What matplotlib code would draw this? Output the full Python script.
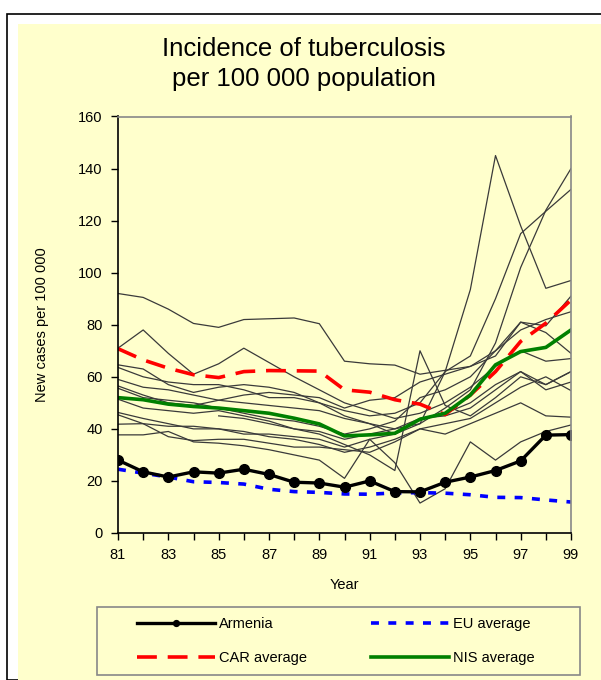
import numpy as np
import matplotlib
matplotlib.use('Agg')
import matplotlib.pyplot as plt
from matplotlib.patches import Rectangle

plt.rcParams['font.family'] = ['Liberation Sans', 'DejaVu Sans']

# Years 1981-1999 (shown as two digits)
years = list(range(81, 100))

armenia = [28, 23.5, 21.5, 23.5, 23, 24.5, 22.5, 19.5, 19.2, 17.6, 20, 15.9, 15.8,
           19.5, 21.5, 24, 27.7, 37.6, 37.8]
eu_avg = [24.5, 23, 21.5, 19.7, 19.4, 18.8, 16.8, 15.9, 15.6, 15, 14.9, 15.4, 15.5,
          15.3, 14.7, 13.7, 13.6, 12.7, 11.9]
car_avg = [70.8, 66.5, 63.3, 60.8, 59.7, 62, 62.4, 62.3, 62.2, 55, 54.1, 51.2, 49.5,
           45.5, 53, 62, 73.6, 80.6, 89.5]
nis_avg = [52, 51.2, 49.5, 48.6, 48, 47, 46, 44.1, 41.9, 37.3, 37.7, 38.3, 43.7,
           46, 53, 64.6, 69.7, 71.3, 78]

# individual NIS countries (thin grey lines), NaN = no data
nan = np.nan
countries = [
    [92, 90.5, 86, 80.5, 79, 82, 82.3, 82.6, 80.4, 66, 65, 64.5, 61, 62.5, 64, 70, 81, 77, 69],
    [71, 78, 69, 61, 65, 71, 65.5, 60, 55, 50, 47, 44, 46, 50, 56, 64, 70, 66, 67],
    [64.6, 63, 57, 54, 56, 57, 56, 54, 50, 45, 42, 38, 42, 62, 93.5, 145, 118, 94, 97],
    [63.6, 60, 58, 57, 57, 55, 52, 52, 50, 47, 45, 46, 50, 62, 68, 90, 115, 123.6, 132],
    [59, 56, 55, 53, 51, 50, 49, 48, 47, 44, 42, 40, 42, 48, 55, 73, 102, 124, 140],
    [56.5, 53, 50, 49, 51, 53, 54, 53, 52, 48, 51, 52, 58, 61, 64, 68, 81, 79.6, 91],
    [55.6, 52, 51, 50, 48, 46, 44, 43, 41, 38, 40, 43, 52, 55, 60, 70, 78, 82, 85],
    [51.4, 48, 47, 46, 47, 45, 43, 40, 38, 34, 30, 24, 70, 49, 45, 52, 60, 57, 62],
    [46.3, 44, 42, 40, 40, 38, 38, 37, 36, 33, 36, 38, 44, 45, 48, 55, 62, 55, 58],
    [45.4, 42, 41, 41, 40, 39, 37, 36, 34, 31, 33, 36, 40, 42, 44, 50, 56, 60, 54.7],
    [41.8, 42, 37, 35.5, 36, 36, 34.5, 33, 33, 32, 31, 35, 40, 38, 42, 46, 50, 45, 44.5],
    [37.7, 37.7, 39, 35, 34.5, 33.5, 32, 30, 28, 21, 36, 27, 11.5, 17, 35, 28, 35, 39, 41.5],
    [nan, nan, nan, nan, 45, 44, 42, 40, 39, 36, 38, 40, 44, 46, 50, 57, 62, 57, 62],
]

bg = '#FFFFCC'
fig = plt.figure(figsize=(6.01, 6.80), dpi=100)
W, H = 601, 680

# outer frame + yellow chart area
fig.add_artist(Rectangle((7 / W, 0), 1, 1 - 14 / H, transform=fig.transFigure,
                         facecolor='white', edgecolor='black', lw=1.2, zorder=-3))
fig.add_artist(Rectangle((18 / W, 0), 1, 1 - 24 / H, transform=fig.transFigure,
                         facecolor=bg, edgecolor='none', zorder=-2))

ax = fig.add_axes([118 / W, 1 - 533 / H, (571 - 118) / W, (533 - 116.5) / H])
ax.set_facecolor(bg)

for c in countries:
    ax.plot(years, c, color='#3a3a3a', lw=0.9)

ax.plot(years, eu_avg, color='#0000FF', lw=2.6, linestyle=(0, (2.2, 2.6)), label='EU average')
ax.plot(years, car_avg, color='#FF0000', lw=2.6, linestyle=(0, (5.5, 3.0)), label='CAR average')
ax.plot(years, nis_avg, color='#008000', lw=2.6, label='NIS average')
ax.plot(years, armenia, color='black', lw=2.4, marker='o', markersize=7, label='Armenia')

ax.set_xlim(81, 99)
ax.set_ylim(0, 160)
ax.set_xticks(years)
ax.set_xticklabels([str(y) if (y - 81) % 2 == 0 else '' for y in years])
ax.set_yticks(range(0, 161, 20))
ax.tick_params(axis='both', direction='out', length=5, width=1, labelsize=10.5, pad=6)

for side in ['top', 'right']:
    ax.spines[side].set_color('#888888')
    ax.spines[side].set_linewidth(1.2)
for side in ['left', 'bottom']:
    ax.spines[side].set_color('black')
    ax.spines[side].set_linewidth(1.2)

ax.set_ylabel('New cases per 100 000', fontsize=10.5, labelpad=21)
ax.set_xlabel('Year', fontsize=10.5, labelpad=11)

fig.text(304 / W, 1 - 64 / H, 'Incidence of tuberculosis\nper 100 000 population',
         ha='center', va='center', fontsize=18.5, linespacing=1.35)

# legend box drawn separately (wider side padding than matplotlib's)
fig.add_artist(Rectangle((97 / W, 1 - 675 / H), (580 - 97) / W, (675 - 607) / H,
                         transform=fig.transFigure, facecolor=bg,
                         edgecolor='#888888', lw=1.2, zorder=1))
handles, labels = ax.get_legend_handles_labels()
order = [labels.index(n) for n in ['Armenia', 'CAR average', 'EU average', 'NIS average']]
leg = fig.legend([handles[i] for i in order], [labels[i] for i in order],
                 loc='center', bbox_to_anchor=(336 / W, 1 - 641 / H), ncol=2,
                 frameon=False, fontsize=10.5, handlelength=5.35,
                 columnspacing=4.4, handletextpad=0.27, borderpad=0.3,
                 labelspacing=1.37, markerscale=0.6)
leg.set_zorder(2)

fig.savefig('out.png', dpi=100, facecolor='white')
